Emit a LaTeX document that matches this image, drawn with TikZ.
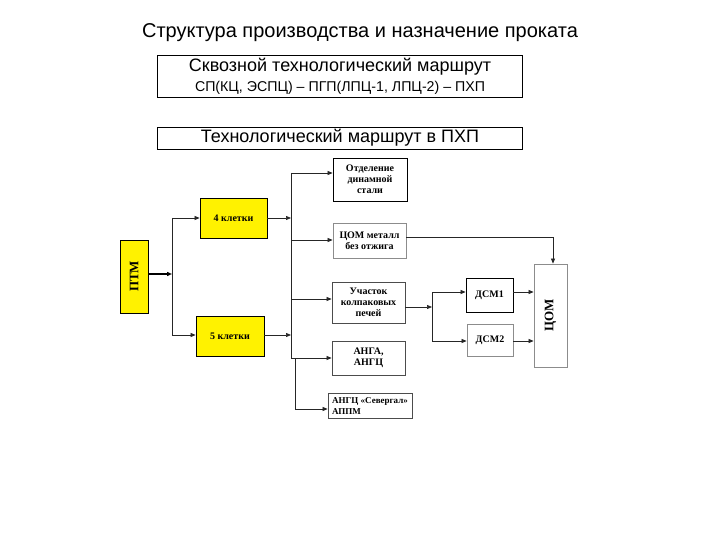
\documentclass[tikz,border=0pt]{standalone}
\usepackage{fontspec}
\setmainfont{Liberation Sans}
\newfontfamily\tnr{Liberation Serif}
\usetikzlibrary{arrows.meta}
\begin{document}
\begin{tikzpicture}[x=1pt,y=-1pt,
 box/.style={draw=black, line width=0.8pt, inner sep=0pt, font=\tnr\bfseries\fontsize{10}{11}\selectfont, align=center},
 ybox/.style={box, fill=yellow},
 lbox/.style={box, draw=black!45},
 tbox/.style={draw=black, line width=0.8pt, minimum width=365pt, inner sep=0pt},
 conn/.style={line width=0.7pt, draw=black!85},
 arr/.style={conn, -{Triangle[length=5pt,width=4pt]}},
 vtext/.style={rotate=90, font=\tnr\bfseries\fontsize{13}{15}\selectfont},
]
\useasboundingbox[fill=white] (0,0) rectangle (720,540);

% titles
\node (title) at (360,33) {\fontsize{20}{24}\selectfont Структура производства и назначение проката};
\node[tbox, minimum height=42pt] (tb1) at (339.5,76) {};
\node (tb1a) at (340,67) {\fontsize{18}{21}\selectfont Сквозной технологический маршрут};
\node (tb1b) at (340,88) {\fontsize{14.2}{17}\selectfont СП(КЦ, ЭСПЦ) – ПГП(ЛПЦ-1, ЛПЦ-2) – ПХП};
\node[tbox, minimum height=22pt] (tb2) at (339.5,138) {};
\node (tb2a) at (340,138) {\fontsize{18}{21}\selectfont Технологический маршрут в ПХП};

% boxes
\node[ybox, minimum width=28pt, minimum height=73pt] (ptm) at (134,276.5) {};
\node[vtext] (ptmt) at (ptm) {ПТМ};
\node[ybox, minimum width=67pt, minimum height=40pt] (k4) at (233.5,218) {4 клетки};
\node[ybox, minimum width=68pt, minimum height=40pt] (k5) at (230,336) {5 клетки};
\node[box, minimum width=74pt, minimum height=43pt] (otd) at (370,179.5) {Отделение\\динамной\\стали};
\node[lbox, minimum width=73pt, minimum height=35pt] (com1) at (369.5,240.5) {ЦОМ металл\\без отжига};
\node[box, draw=black!70, minimum width=73pt, minimum height=41pt] (uch) at (368.5,302.5) {Участок\\колпаковых\\печей};
\node[box, draw=black!70, minimum width=73pt, minimum height=34pt] (anga) at (368.5,358) {АНГА,\\АНГЦ};
\node[box, draw=black!70, minimum width=84pt, minimum height=25pt, align=left, font=\tnr\bfseries\fontsize{9}{10.5}\selectfont] (sev) at (370,406) {АНГЦ «Севергал»\\АППМ};
\node[box, minimum width=47pt, minimum height=34pt] (dsm1) at (489.5,295) {ДСМ1};
\node[lbox, minimum width=46pt, minimum height=32pt] (dsm2) at (490,340) {ДСМ2};
\node[lbox, minimum width=33pt, minimum height=103pt] (com) at (550.5,315.5) {};
\node[vtext] (comt) at (com) {ЦОМ};

% connectors
\coordinate (j1) at (172,274);
\coordinate (j1t) at (172,218);
\coordinate (j1b) at (172,335);
\draw[arr, line width=1.6pt, draw=black] (ptm.east |- j1) -- (j1);
\draw[conn] (j1t) -- (j1b);
\draw[arr] (j1t) -- (k4.west |- j1t);
\draw[arr] (j1b) -- (k5.west |- j1b);

\coordinate (bt) at (291,173);
\coordinate (bb) at (291,358);
\draw[conn] (bt) -- (bb);
\draw[arr] (k4.east |- j1t) -- (bt |- j1t);
\draw[arr] (k5.east |- j1b) -- (bt |- j1b);
\draw[arr] (bt) -- (otd.west |- bt);
\coordinate (b2) at (291,240);
\draw[arr] (b2) -- (com1.west |- b2);
\coordinate (b3) at (291,299);
\draw[arr] (b3) -- (uch.west |- b3);
\draw[arr] (bb) -- (anga.west |- bb);
\coordinate (b5t) at (295,358);
\coordinate (b5) at (295,409);
\draw[conn] (b5t) -- (b5);
\draw[arr] (b5) -- (sev.west |- b5);

\coordinate (c1) at (406,237);
\coordinate (c2) at (553,237);
\draw[arr] (com1.east |- c1) -- (c2) -- (c2 |- com.north);

\coordinate (j2) at (432,307);
\coordinate (j2t) at (432,292);
\coordinate (j2b) at (432,341);
\draw[arr] (uch.east |- j2) -- (j2);
\draw[conn] (j2t) -- (j2b);
\draw[arr] (j2t) -- (dsm1.west |- j2t);
\draw[arr] (j2b) -- (dsm2.west |- j2b);
\draw[arr] (dsm1.east |- j2t) -- (com.west |- j2t);
\draw[arr] (dsm2.east |- j2b) -- (com.west |- j2b);
\end{tikzpicture}
\end{document}
